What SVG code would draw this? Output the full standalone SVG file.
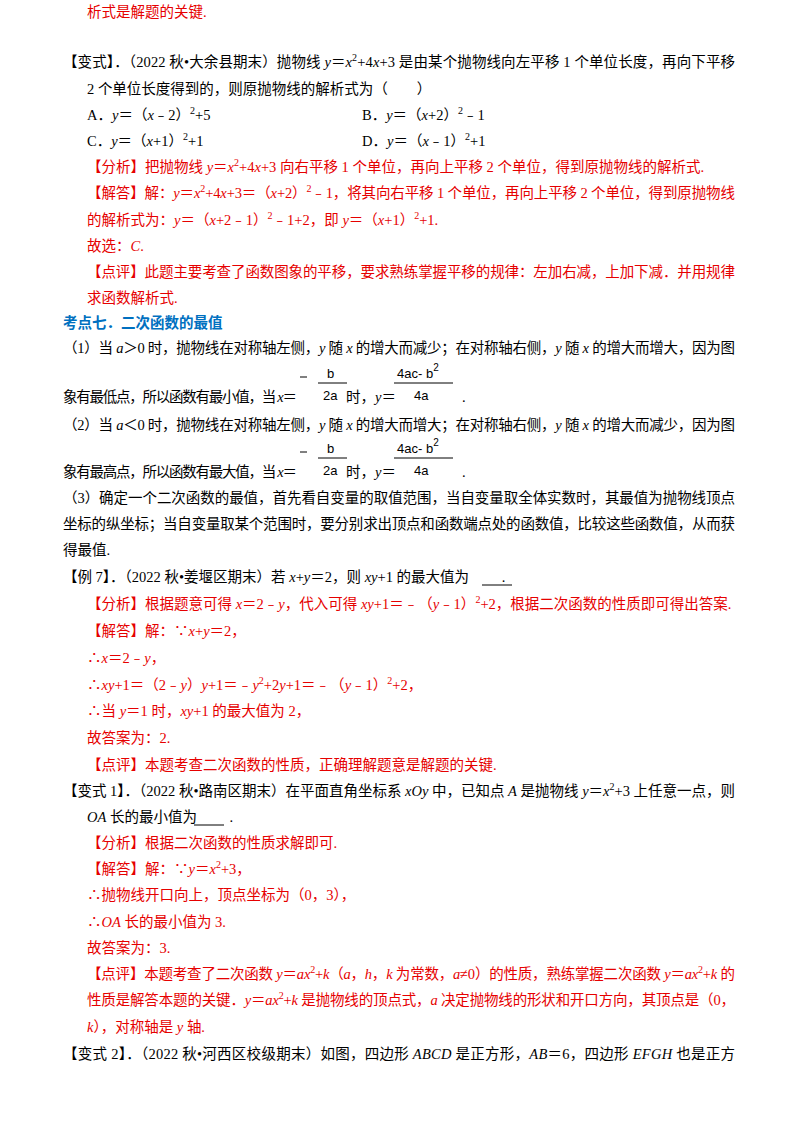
<svg xmlns="http://www.w3.org/2000/svg" width="800" height="1132" viewBox="0 0 800 1132">
<style>
text{font-family:"Liberation Serif","Noto Sans CJK SC",serif;font-size:14.5px;fill:#000}
.r{fill:#e60000}
.b{fill:#0070c0;font-weight:bold}
.i{font-style:italic}
.s{font-size:10px}
.f{font-family:"Liberation Sans","Noto Sans CJK SC",sans-serif;font-size:13px}
line{stroke:#000;stroke-width:1}
</style>
<rect width="800" height="1132" fill="#fff"/>
<text x="87" y="17" class="r">析式是解题的关键.</text>
<text x="63" y="67" textLength="672" lengthAdjust="spacing">【变式】．（2022 秋•大余县期末）抛物线 <tspan class="i">y</tspan>＝<tspan class="i">x</tspan><tspan class="s" dy="-6">2</tspan><tspan dy="6">+4</tspan><tspan class="i">x</tspan>+3 是由某个抛物线向左平移 1 个单位长度，再向下平移</text>
<text x="87" y="94">2 个单位长度得到的，则原抛物线的解析式为（　　）</text>
<text x="87" y="120">A．<tspan class="i">y</tspan>＝（<tspan class="i">x</tspan>﹣2）<tspan class="s" dy="-6">2</tspan><tspan dy="6">+5</tspan></text>
<text x="362" y="120">B．<tspan class="i">y</tspan>＝（<tspan class="i">x</tspan>+2）<tspan class="s" dy="-6">2</tspan><tspan dy="6">﹣1</tspan></text>
<text x="87" y="146">C．<tspan class="i">y</tspan>＝（<tspan class="i">x</tspan>+1）<tspan class="s" dy="-6">2</tspan><tspan dy="6">+1</tspan></text>
<text x="362" y="146">D．<tspan class="i">y</tspan>＝（<tspan class="i">x</tspan>﹣1）<tspan class="s" dy="-6">2</tspan><tspan dy="6">+1</tspan></text>
<text x="87" y="172" class="r">【分析】把抛物线 <tspan class="i">y</tspan>＝<tspan class="i">x</tspan><tspan class="s" dy="-6">2</tspan><tspan dy="6">+4</tspan><tspan class="i">x</tspan>+3 向右平移 1 个单位，再向上平移 2 个单位，得到原抛物线的解析式.</text>
<text x="87" y="198" class="r" textLength="648" lengthAdjust="spacing">【解答】解：<tspan class="i">y</tspan>＝<tspan class="i">x</tspan><tspan class="s" dy="-6">2</tspan><tspan dy="6">+4</tspan><tspan class="i">x</tspan>+3＝（<tspan class="i">x</tspan>+2）<tspan class="s" dy="-6">2</tspan><tspan dy="6">﹣1，将其向右平移 1 个单位，再向上平移 2 个单位，得到原抛物线</tspan></text>
<text x="87" y="225" class="r">的解析式为：<tspan class="i">y</tspan>＝（<tspan class="i">x</tspan>+2﹣1）<tspan class="s" dy="-6">2</tspan><tspan dy="6">﹣1+2，即 </tspan><tspan class="i">y</tspan>＝（<tspan class="i">x</tspan>+1）<tspan class="s" dy="-6">2</tspan><tspan dy="6">+1.</tspan></text>
<text x="87" y="251" class="r">故选：<tspan class="i">C</tspan>.</text>
<text x="87" y="277" class="r" textLength="648" lengthAdjust="spacing">【点评】此题主要考查了函数图象的平移，要求熟练掌握平移的规律：左加右减，上加下减．并用规律</text>
<text x="87" y="303" class="r">求函数解析式.</text>
<text x="63" y="328" class="b">考点七．二次函数的最值</text>
<text x="63" y="353" textLength="672" lengthAdjust="spacing">（1）当 <tspan class="i">a</tspan>＞0 时，抛物线在对称轴左侧，<tspan class="i">y</tspan> 随 <tspan class="i">x</tspan> 的增大而减少；在对称轴右侧，<tspan class="i">y</tspan> 随 <tspan class="i">x</tspan> 的增大而增大，因为图</text>
<g id="frac-min">
<text x="63" y="402" textLength="234" lengthAdjust="spacing">象有最低点，所以函数有最小值，当 <tspan class="i">x</tspan>＝</text>
<line x1="300" y1="377" x2="307" y2="377"/><text x="327" y="378" class="f">b</text><line x1="318" y1="383" x2="347" y2="383"/><text x="323" y="400" class="f">2a</text>
<text x="346" y="402">时，<tspan class="i">y</tspan>＝</text>
<text x="397" y="378" class="f">4ac- b<tspan dy="-7" font-size="10">2</tspan></text><line x1="394" y1="383" x2="453" y2="383"/><text x="414" y="400" class="f">4a</text>
<text x="462" y="402">.</text>
</g>
<text x="63" y="430" textLength="672" lengthAdjust="spacing">（2）当 <tspan class="i">a</tspan>＜0 时，抛物线在对称轴左侧，<tspan class="i">y</tspan> 随 <tspan class="i">x</tspan> 的增大而增大；在对称轴右侧，<tspan class="i">y</tspan> 随 <tspan class="i">x</tspan> 的增大而减少，因为图</text>
<g id="frac-max">
<text x="63" y="477" textLength="234" lengthAdjust="spacing">象有最高点，所以函数有最大值，当 <tspan class="i">x</tspan>＝</text>
<line x1="300" y1="452" x2="307" y2="452"/><text x="327" y="453" class="f">b</text><line x1="318" y1="458" x2="347" y2="458"/><text x="323" y="475" class="f">2a</text>
<text x="346" y="477">时，<tspan class="i">y</tspan>＝</text>
<text x="397" y="453" class="f">4ac- b<tspan dy="-7" font-size="10">2</tspan></text><line x1="394" y1="458" x2="453" y2="458"/><text x="414" y="475" class="f">4a</text>
<text x="462" y="477">.</text>
</g>
<text x="63" y="503" textLength="672" lengthAdjust="spacing">（3）确定一个二次函数的最值，首先看自变量的取值范围，当自变量取全体实数时，其最值为抛物线顶点</text>
<text x="63" y="529" textLength="672" lengthAdjust="spacing">坐标的纵坐标；当自变量取某个范围时，要分别求出顶点和函数端点处的函数值，比较这些函数值，从而获</text>
<text x="63" y="555">得最值.</text>
<text x="63" y="582">【例 7】．（2022 秋•姜堰区期末）若 <tspan class="i">x</tspan>+<tspan class="i">y</tspan>＝2，则 <tspan class="i">xy</tspan>+1 的最大值为 　　.</text>
<line x1="482" y1="585" x2="512" y2="585"/>
<text x="87" y="609" class="r">【分析】根据题意可得 <tspan class="i">x</tspan>＝2﹣<tspan class="i">y</tspan>，代入可得 <tspan class="i">xy</tspan>+1＝﹣（<tspan class="i">y</tspan>﹣1）<tspan class="s" dy="-6">2</tspan><tspan dy="6">+2，根据二次函数的性质即可得出答案.</tspan></text>
<text x="87" y="636" class="r">【解答】解：∵<tspan class="i">x</tspan>+<tspan class="i">y</tspan>＝2，</text>
<text x="87" y="663" class="r">∴<tspan class="i">x</tspan>＝2﹣<tspan class="i">y</tspan>，</text>
<text x="87" y="690" class="r">∴<tspan class="i">xy</tspan>+1＝（2﹣<tspan class="i">y</tspan>）<tspan class="i">y</tspan>+1＝﹣<tspan class="i">y</tspan><tspan class="s" dy="-6">2</tspan><tspan dy="6">+2</tspan><tspan class="i">y</tspan>+1＝﹣（<tspan class="i">y</tspan>﹣1）<tspan class="s" dy="-6">2</tspan><tspan dy="6">+2，</tspan></text>
<text x="87" y="716" class="r">∴当 <tspan class="i">y</tspan>＝1 时，<tspan class="i">xy</tspan>+1 的最大值为 2，</text>
<text x="87" y="743" class="r">故答案为：2.</text>
<text x="87" y="770" class="r">【点评】本题考查二次函数的性质，正确理解题意是解题的关键.</text>
<text x="63" y="796" textLength="672" lengthAdjust="spacing">【变式 1】．（2022 秋•路南区期末）在平面直角坐标系 <tspan class="i">xOy</tspan> 中，已知点 <tspan class="i">A</tspan> 是抛物线 <tspan class="i">y</tspan>＝<tspan class="i">x</tspan><tspan class="s" dy="-6">2</tspan><tspan dy="6">+3 上任意一点，则</tspan></text>
<text x="87" y="822"><tspan class="i">OA</tspan> 长的最小值为 　　.</text>
<line x1="194" y1="825" x2="224" y2="825"/>
<text x="87" y="848" class="r">【分析】根据二次函数的性质求解即可.</text>
<text x="87" y="874" class="r">【解答】解：∵<tspan class="i">y</tspan>＝<tspan class="i">x</tspan><tspan class="s" dy="-6">2</tspan><tspan dy="6">+3，</tspan></text>
<text x="87" y="900" class="r">∴抛物线开口向上，顶点坐标为（0，3），</text>
<text x="87" y="927" class="r">∴<tspan class="i">OA</tspan> 长的最小值为 3.</text>
<text x="87" y="953" class="r">故答案为：3.</text>
<text x="87" y="979" class="r" textLength="648" lengthAdjust="spacing">【点评】本题考查了二次函数 <tspan class="i">y</tspan>＝<tspan class="i">ax</tspan><tspan class="s" dy="-6">2</tspan><tspan dy="6">+</tspan><tspan class="i">k</tspan>（<tspan class="i">a</tspan>，<tspan class="i">h</tspan>，<tspan class="i">k</tspan> 为常数，<tspan class="i">a</tspan>≠0）的性质，熟练掌握二次函数 <tspan class="i">y</tspan>＝<tspan class="i">ax</tspan><tspan class="s" dy="-6">2</tspan><tspan dy="6">+</tspan><tspan class="i">k</tspan> 的</text>
<text x="87" y="1005" class="r" textLength="648" lengthAdjust="spacing">性质是解答本题的关键．<tspan class="i">y</tspan>＝<tspan class="i">ax</tspan><tspan class="s" dy="-6">2</tspan><tspan dy="6">+</tspan><tspan class="i">k</tspan> 是抛物线的顶点式，<tspan class="i">a</tspan> 决定抛物线的形状和开口方向，其顶点是（0，</text>
<text x="87" y="1032" class="r"><tspan class="i">k</tspan>），对称轴是 <tspan class="i">y</tspan> 轴.</text>
<text x="63" y="1059" textLength="672" lengthAdjust="spacing">【变式 2】．（2022 秋•河西区校级期末）如图，四边形 <tspan class="i">ABCD</tspan> 是正方形，<tspan class="i">AB</tspan>＝6，四边形 <tspan class="i">EFGH</tspan> 也是正方</text>
</svg>
